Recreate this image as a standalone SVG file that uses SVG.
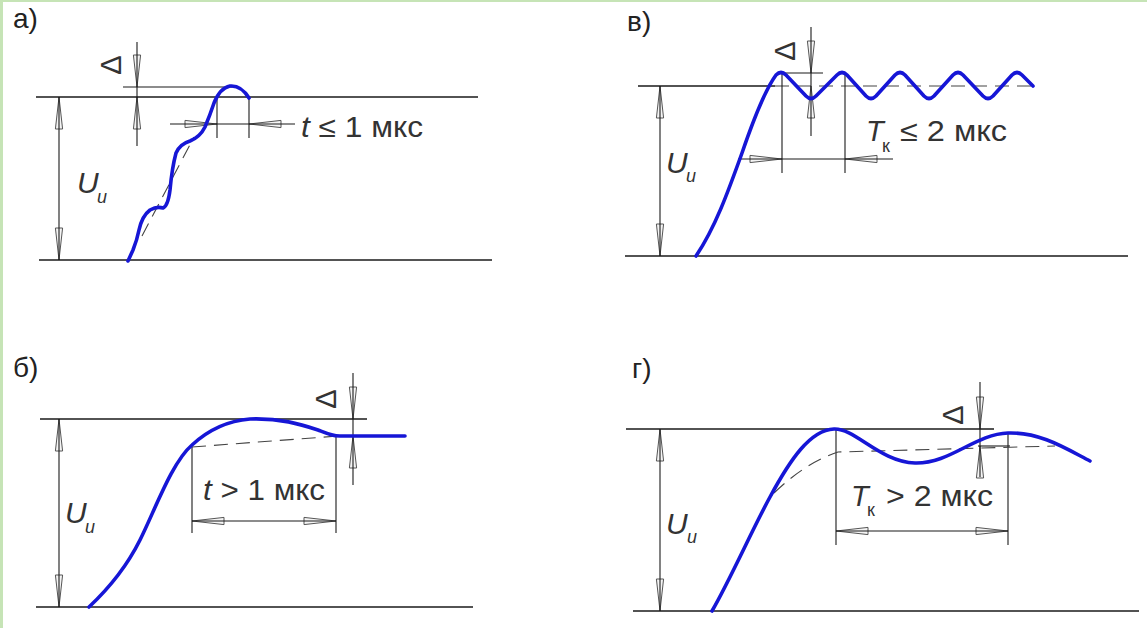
<svg xmlns="http://www.w3.org/2000/svg" xmlns:xlink="http://www.w3.org/1999/xlink" width="1147" height="628" viewBox="0 0 1147 628">
<style>
.ln{stroke:#1a1a1a;stroke-width:1.3;fill:none}
.dim{stroke:#1a1a1a;stroke-width:1.1;fill:none}
.dash{stroke:#444;stroke-width:1.1;fill:none;stroke-dasharray:14 8}
.crv{stroke:#1616d6;stroke-width:3.6;fill:none;stroke-linecap:round;stroke-linejoin:round}
.lbl{font-family:"Liberation Sans",Arial,sans-serif;font-size:28px;fill:#222}
.txt{font-family:"Liberation Sans",Arial,sans-serif;font-size:29px;fill:#333}
.u{font-family:"Liberation Sans",Arial,sans-serif;font-size:30px;fill:#333;font-style:italic}
.it{font-style:italic}
.sub{font-family:"Liberation Sans",Arial,sans-serif;font-size:18px;fill:#333}
.dl{font-family:"Liberation Sans",Arial,sans-serif;font-size:29px;fill:#333}
</style>
<defs>
<path id="ah" d="M0,0 L-32,-3.6 L-32,3.6 Z" fill="#f4f4f4" stroke="#555" stroke-width="1"/>
</defs>
<rect x="0" y="0" width="1147" height="628" fill="#ffffff"/>
<rect x="0" y="0" width="1147" height="2" fill="#c6e4b6"/>
<rect x="0" y="0" width="3" height="628" fill="#c6e4b6"/>

<g id="panel-a">
<text class="lbl" x="13" y="28">а)</text>
<use href="#ah" transform="translate(59,97) rotate(-90)"/>
<use href="#ah" transform="translate(59,260) rotate(90)"/>
<use href="#ah" transform="translate(137,87) rotate(90)"/>
<use href="#ah" transform="translate(137,97) rotate(-90)"/>
<use href="#ah" transform="translate(217,124) rotate(0)"/>
<use href="#ah" transform="translate(249,124) rotate(180)"/>
<line class="ln" x1="36" y1="97" x2="478" y2="97"/>
<line class="ln" x1="39" y1="260" x2="492" y2="260"/>
<line class="dim" x1="59" y1="97" x2="59" y2="260"/>
<line class="dim" x1="123" y1="87" x2="232" y2="87"/>
<line class="dim" x1="137" y1="42" x2="137" y2="146"/>
<line class="dim" x1="170" y1="124" x2="295" y2="124"/>
<line class="dim" x1="217" y1="97" x2="217" y2="138"/>
<line class="dim" x1="249" y1="97" x2="249" y2="138"/>
<path class="dash" d="M142,236 L194,137" stroke-dasharray="8 10"/>
<path class="crv" d="M128,261 L133,250 Q137,240 139,230 Q142,216 150,210 Q157,206 163,208 Q168,206 170,190 Q172,168 176,153 Q180,144 190,141 Q200,137 205,127 Q210,115 214,103 Q220,88 230,86 Q241,85 249,98"/>
<text class="dl" transform="translate(111,65) rotate(-90)" text-anchor="middle" dominant-baseline="central">Δ</text>
<text class="u" x="77" y="193">U</text>
<text class="sub it" x="97" y="203">и</text>
<text class="txt" x="301" y="137" textLength="122" lengthAdjust="spacingAndGlyphs"><tspan class="it">t</tspan> ≤ 1 мкс</text>
</g>

<g id="panel-v">
<text class="lbl" x="627" y="31">в)</text>
<use href="#ah" transform="translate(660,86) rotate(-90)"/>
<use href="#ah" transform="translate(660,256) rotate(90)"/>
<use href="#ah" transform="translate(811,73) rotate(90)"/>
<use href="#ah" transform="translate(811,86) rotate(-90)"/>
<use href="#ah" transform="translate(782,159) rotate(0)"/>
<use href="#ah" transform="translate(845,159) rotate(180)"/>
<line class="ln" x1="638" y1="86" x2="775" y2="86"/>
<path class="dash" d="M775,86 L1033,86"/>
<line class="ln" x1="625" y1="256" x2="1128" y2="256"/>
<line class="dim" x1="660" y1="86" x2="660" y2="256"/>
<line class="dim" x1="782" y1="73" x2="823" y2="73"/>
<line class="dim" x1="811" y1="27" x2="811" y2="136"/>
<line class="dim" x1="738" y1="159" x2="893" y2="159"/>
<line class="dim" x1="782" y1="73" x2="782" y2="173"/>
<line class="dim" x1="845" y1="73" x2="845" y2="173"/>
<path class="crv" d="M696,256 C715,228 728,192 742,153 C754,118 765,90 776,75 Q781,70 786,75 L806,96 Q811,101 816,96 L837,75 Q842,70 847,75 L866,96 Q871,101 876,96 L895,75 Q900,70 905,75 L924,96 Q929,101 934,96 L953,75 Q958,70 963,75 L983,96 Q988,101 993,96 L1012,75 Q1017,70 1022,75 L1033,86"/>
<text class="dl" transform="translate(785,51) rotate(-90)" text-anchor="middle" dominant-baseline="central">Δ</text>
<text class="u" x="666" y="173">U</text>
<text class="sub it" x="686" y="182">и</text>
<text class="txt it" x="866" y="141">T</text>
<text class="sub" x="882" y="152">к</text>
<text class="txt" x="900" y="141" textLength="107" lengthAdjust="spacingAndGlyphs">≤ 2 мкс</text>
</g>

<g id="panel-b">
<text class="lbl" x="13" y="377">б)</text>
<use href="#ah" transform="translate(59,419) rotate(-90)"/>
<use href="#ah" transform="translate(59,607) rotate(90)"/>
<use href="#ah" transform="translate(353,419) rotate(90)"/>
<use href="#ah" transform="translate(353,436) rotate(-90)"/>
<use href="#ah" transform="translate(192,521) rotate(180)"/>
<use href="#ah" transform="translate(336,521) rotate(0)"/>
<line class="ln" x1="40" y1="419" x2="367" y2="419"/>
<line class="ln" x1="36" y1="607" x2="473" y2="607"/>
<line class="dim" x1="59" y1="419" x2="59" y2="607"/>
<line class="dim" x1="353" y1="373" x2="353" y2="485"/>
<line class="dim" x1="192" y1="521" x2="336" y2="521"/>
<line class="dim" x1="192" y1="447" x2="192" y2="533"/>
<line class="dim" x1="336" y1="436" x2="336" y2="533"/>
<path class="dash" d="M192,447 L338,436"/>
<path class="crv" d="M89,607 C105,592 125,570 140,540 C155,510 172,462 192,445 C205,433 225,421 250,419 C280,418 300,424 318,430 C328,434 332,436 340,436 L405,436"/>
<text class="dl" transform="translate(326,399) rotate(-90)" text-anchor="middle" dominant-baseline="central">Δ</text>
<text class="u" x="65" y="523">U</text>
<text class="sub it" x="85" y="533">и</text>
<text class="txt" x="203" y="500" textLength="122" lengthAdjust="spacingAndGlyphs"><tspan class="it">t</tspan> &gt; 1 мкс</text>
</g>

<g id="panel-g">
<text class="lbl" x="632" y="378">г)</text>
<use href="#ah" transform="translate(660,429) rotate(-90)"/>
<use href="#ah" transform="translate(660,611) rotate(90)"/>
<use href="#ah" transform="translate(980,429) rotate(90)"/>
<use href="#ah" transform="translate(980,446) rotate(-90)"/>
<use href="#ah" transform="translate(836,531) rotate(180)"/>
<use href="#ah" transform="translate(1008,531) rotate(0)"/>
<line class="ln" x1="626" y1="429" x2="994" y2="429"/>
<line class="ln" x1="633" y1="611" x2="1139" y2="611"/>
<line class="dim" x1="660" y1="429" x2="660" y2="611"/>
<line class="dim" x1="980" y1="382" x2="980" y2="477"/>
<line class="dim" x1="978" y1="446" x2="1010" y2="446"/>
<line class="dim" x1="836" y1="531" x2="1008" y2="531"/>
<line class="dim" x1="836" y1="429" x2="836" y2="545"/>
<line class="dim" x1="1008" y1="433" x2="1008" y2="545"/>
<path class="dash" d="M774,493 Q805,463 838,452 L1055,446"/>
<path class="crv" d="M712,611 C730,580 752,530 770,497 C790,460 810,430 834,429 C855,428 880,462 915,463 C950,464 975,434 1008,433 C1040,432 1065,448 1090,461"/>
<text class="dl" transform="translate(953,415) rotate(-90)" text-anchor="middle" dominant-baseline="central">Δ</text>
<text class="u" x="666" y="534">U</text>
<text class="sub it" x="687" y="543">и</text>
<text class="txt it" x="851" y="506">T</text>
<text class="sub" x="867" y="516">к</text>
<text class="txt" x="886" y="506" textLength="107" lengthAdjust="spacingAndGlyphs">&gt; 2 мкс</text>
</g>
</svg>
